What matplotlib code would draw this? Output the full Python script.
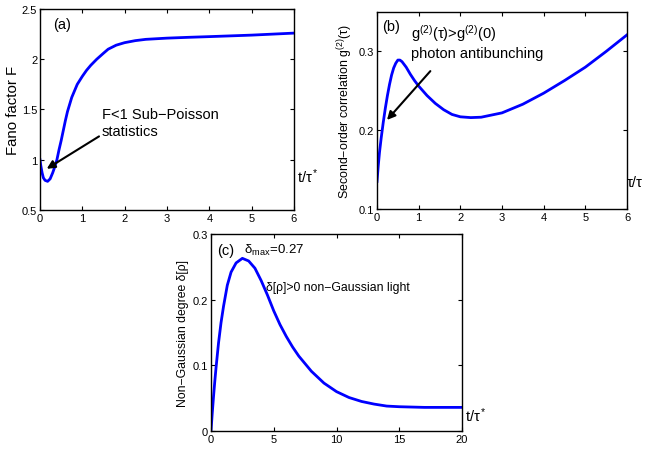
import matplotlib
matplotlib.use("Agg")
import matplotlib.pyplot as plt

plt.rcParams['font.family'] = ['Liberation Sans', 'DejaVu Sans']
plt.rcParams['mathtext.fontset'] = 'custom'
plt.rcParams['mathtext.rm'] = 'Liberation Sans'
plt.rcParams['mathtext.it'] = 'Liberation Sans'

# --- data ---
# (a) Fano factor
tA = [0, 0.02, 0.05, 0.08, 0.12, 0.18, 0.24, 0.3, 0.35, 0.4, 0.45, 0.5, 0.55, 0.6,
      0.65, 0.7, 0.75, 0.8, 0.88, 1.0, 1.1, 1.2, 1.34, 1.5, 1.61, 1.8, 2.0, 2.25,
      2.5, 3.0, 3.5, 4.0, 5.0, 6.0]
fano = [1.0, 0.94, 0.87, 0.82, 0.795, 0.785, 0.81, 0.87, 0.93, 1.0, 1.1, 1.19, 1.29,
        1.39, 1.48, 1.55, 1.62, 1.67, 1.75, 1.83, 1.89, 1.94, 2.0, 2.06, 2.1, 2.14,
        2.165, 2.185, 2.198, 2.21, 2.218, 2.225, 2.24, 2.26]

# (b) second-order correlation
tB = [0, 0.03, 0.06, 0.1, 0.15, 0.2, 0.25, 0.3, 0.35, 0.4, 0.45, 0.5, 0.55, 0.6, 0.7,
      0.8, 0.9, 1.0, 1.2, 1.4, 1.6, 1.8, 2.0, 2.25, 2.5, 3.0, 3.5, 4.0, 4.5, 5.0,
      5.5, 6.0]
g2 = [0.135, 0.155, 0.172, 0.19, 0.21, 0.228, 0.244, 0.258, 0.27, 0.279, 0.285, 0.289,
      0.289, 0.287, 0.28, 0.271, 0.263, 0.256, 0.244, 0.234, 0.226, 0.22, 0.217,
      0.216, 0.2165, 0.222, 0.233, 0.247, 0.263, 0.28, 0.30, 0.321]

# (c) non-Gaussian degree
tC = [0, 0.1, 0.2, 0.3, 0.4, 0.6, 0.8, 1.0, 1.3, 1.6, 2.0, 2.5, 3.0, 3.5, 4.0, 4.5,
      5.0, 5.5, 6.0, 6.5, 7.0, 8.0, 9.0, 10.0, 11.0, 12.0, 13.0, 14.0, 15.0, 17.0, 20.0]
delta = [0, 0.027, 0.052, 0.075, 0.096, 0.134, 0.165, 0.19, 0.222, 0.242, 0.256,
         0.263, 0.259, 0.248, 0.229, 0.207, 0.183, 0.162, 0.144, 0.128, 0.114, 0.091,
         0.073, 0.06, 0.051, 0.045, 0.041, 0.038, 0.037, 0.036, 0.036]

fig = plt.figure(figsize=(6.47, 4.52), dpi=100)
axA = fig.add_axes([0.0618, 0.5332, 0.3926, 0.4447])
axB = fig.add_axes([0.5827, 0.5354, 0.3864, 0.4358])
axC = fig.add_axes([0.3261, 0.0442, 0.3880, 0.4358])

for ax in (axA, axB, axC):
    ax.tick_params(direction='in', top=True, right=True, length=3, width=0.8,
                   labelsize=8, pad=2)
    for s in ax.spines.values():
        s.set_linewidth(1.0)

blue = '#0000ff'

# ---- (a) ----
axA.plot(tA, fano, color=blue, lw=2)
axA.set_xlim(0, 6)
axA.set_ylim(0.5, 2.5)
axA.set_xticks([0, 1, 2, 3, 4, 5, 6])
axA.set_yticks([0.5, 1, 1.5, 2, 2.5])
axA.set_yticklabels(['0.5', '1', '1.5', '2', '2.5'])
axA.set_ylabel("Fano factor F", fontsize=10.8, labelpad=1)
axA.text(0.3, 2.35, "(a)", fontsize=10.5, va='center')
axA.annotate("F<1 Sub\u2212Poisson\nstatistics", xy=(0.16, 0.91), xytext=(1.46, 1.52),
             fontsize=10.5, va='top', ha='left',
             arrowprops=dict(arrowstyle='-|>', color='k', lw=1.5, mutation_scale=12,
                             shrinkA=0, shrinkB=0, relpos=(0, 0.1)))
axA.text(1.01, 0.14, "t/\u03c4$^*$", transform=axA.transAxes, fontsize=10.5)

# ---- (b) ----
axB.plot(tB, g2, color=blue, lw=2)
axB.set_xlim(0, 6)
axB.set_ylim(0.1, 0.35)
axB.set_xticks([0, 1, 2, 3, 4, 5, 6])
axB.set_yticks([0.1, 0.2, 0.3])
axB.set_ylabel("Second\u2212order correlation g$^{(2)}$(\u03c4)", fontsize=8.9, labelpad=3)
axB.text(0.12, 0.332, "(b)", fontsize=10.5, va='center')
axB.text(0.82, 0.337, "g$^{(2)}$(\u03c4)>g$^{(2)}$(0)\nphoton antibunching", fontsize=10.5,
         va='top', ha='left', linespacing=1.3)
axB.annotate("", xy=(0.24, 0.213), xytext=(1.28, 0.275),
             arrowprops=dict(arrowstyle='-|>', color='k', lw=1.5, mutation_scale=12,
                             shrinkA=0, shrinkB=0))
axB.text(1.0, 0.115, "\u03c4/\u03c4", transform=axB.transAxes, fontsize=10.5)

# ---- (c) ----
axC.plot(tC, delta, color=blue, lw=2)
axC.set_xlim(0, 20)
axC.set_ylim(0, 0.3)
axC.set_xticks([0, 5, 10, 15, 20])
axC.set_yticks([0, 0.1, 0.2, 0.3])
axC.set_yticklabels(['0', '0.1', '0.2', '0.3'])
axC.set_ylabel("Non\u2212Gaussian degree \u03b4[\u03c1]", fontsize=8.8, labelpad=3)
axC.text(0.45, 0.275, "(c)", fontsize=10.5, va='center')
axC.text(2.6, 0.277, "\u03b4$_{max}$=0.27", fontsize=9.5, va='center')
axC.text(4.4, 0.219, "\u03b4[\u03c1]>0 non\u2212Gaussian light", fontsize=8.8, va='center')
axC.text(1.01, 0.05, "t/\u03c4$^*$", transform=axC.transAxes, fontsize=10.5)

fig.savefig("out.png", dpi=100)
